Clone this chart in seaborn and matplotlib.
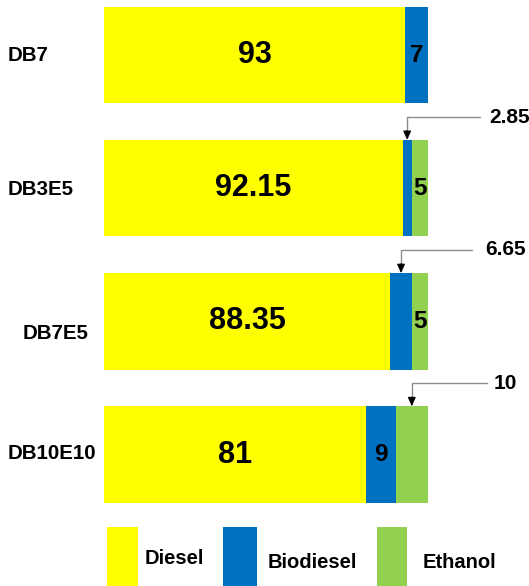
import matplotlib
matplotlib.use("Agg")
import matplotlib.pyplot as plt
import matplotlib.transforms as mtransforms
from matplotlib.patches import Rectangle
import numpy as np
import seaborn as sns

# Blend composition (% by volume)
categories = ["DB7", "DB3E5", "DB7E5", "DB10E10"]
diesel = [93, 92.15, 88.35, 81]
biodiesel = [7, 2.85, 6.65, 9]
ethanol = [0, 5, 5, 10]
series_names = ["Diesel", "Biodiesel", "Ethanol"]

# Segments labelled with a callout instead of inside the bar: (row, series)
callouts = [(1, "Biodiesel"), (2, "Biodiesel"), (3, "Ethanol")]

colors = {"Diesel": "#FFFF00", "Biodiesel": "#0070C0", "Ethanol": "#92D050"}

sns.set_theme(style="white")
plt.rcParams["font.family"] = ["Liberation Sans", "DejaVu Sans"]
plt.rcParams["font.weight"] = "bold"

W, H = 529, 586
fig = plt.figure(figsize=(W / 100, H / 100), dpi=100)
ax = fig.add_axes([104 / W, 0, 324 / W, 1])

d = np.array(diesel, dtype=float)
b = np.array(biodiesel, dtype=float)
e = np.array(ethanol, dtype=float)
segments = {"Diesel": d, "Biodiesel": b, "Ethanol": e}
starts = {"Diesel": np.zeros_like(d), "Biodiesel": d, "Ethanol": d + b}

# stacked bars drawn back to front as cumulative totals
bar_kw = dict(orient="h", width=0.725, saturation=1, errorbar=None,
              linewidth=0, ax=ax, order=categories)
sns.barplot(x=d + b + e, y=categories, color=colors["Ethanol"], **bar_kw)
sns.barplot(x=d + b, y=categories, color=colors["Biodiesel"], **bar_kw)
sns.barplot(x=d, y=categories, color=colors["Diesel"], **bar_kw)

ax.set_xlim(0, 100)
ax.set_ylim(3.987, -0.413)
ax.axis("off")

# category names at the left edge
name_tr = mtransforms.blended_transform_factory(fig.transFigure, ax.transData)
name_x = [8, 8, 23, 8]
name_dy = [0.005, 0.012, 0.088, -0.01]
for i, cat in enumerate(categories):
    ax.text(name_x[i] / W, i + name_dy[i], cat, transform=name_tr,
            ha="left", va="center", fontsize=14.8, fontweight="bold",
            color="#000000")

# values inside the segments
half = 0.725 / 2
for i in range(len(categories)):
    for s in series_names:
        v = segments[s][i]
        if v <= 0 or (i, s) in callouts:
            continue
        size = 22 if s == "Diesel" else 17.5
        ax.text(starts[s][i] + v / 2, i, f"{v:g}", ha="center", va="center",
                fontsize=size, fontweight="bold", color="#000000")

# callouts for the narrow segments
px = lambda p: (p - 104) / 3.24
line_start = [px(480), px(472), px(487)]
text_start = [px(489), px(485), px(494)]
line_y = [0.466, 1.464, 2.463]
for k, (i, s) in enumerate(callouts):
    v = segments[s][i]
    xc = starts[s][i] + v / 2
    top = i - half
    ax.annotate("", xy=(xc, top - 0.02), xytext=(line_start[k], line_y[k]),
                arrowprops=dict(arrowstyle="-", color="#8c8c8c", lw=1.0,
                                shrinkA=0, shrinkB=0,
                                connectionstyle="angle,angleA=180,angleB=90,rad=0"),
                annotation_clip=False)
    ax.annotate("", xy=(xc, top), xytext=(xc, top - 0.07),
                arrowprops=dict(arrowstyle="-|>,head_length=0.45,head_width=0.2",
                                color="#000000", lw=0.8, shrinkA=0, shrinkB=0),
                annotation_clip=False)
    ax.text(text_start[k], line_y[k], f"{v:g}", ha="left", va="center",
            fontsize=15, fontweight="bold", color="#000000", clip_on=False)

# legend
leg_patch_x = [(107, 138), (223, 257), (377, 407)]
leg_text_x = [145, 268, 423]
leg_text_y = [559, 563, 563]
for s, (x0, x1), tx, ty in zip(series_names, leg_patch_x, leg_text_x, leg_text_y):
    fig.add_artist(Rectangle((x0 / W, 0), (x1 - x0) / W, (H - 527) / H,
                             transform=fig.transFigure, facecolor=colors[s],
                             edgecolor="none"))
    fig.text(tx / W, 1 - ty / H, s, ha="left", va="center", fontsize=14.5,
             fontweight="bold", color="#000000")

fig.savefig("out.png", dpi=100)
